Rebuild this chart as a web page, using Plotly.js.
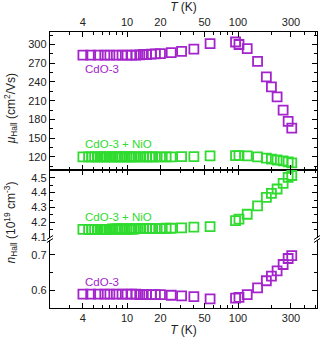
<!DOCTYPE html>
<html><head><meta charset="utf-8">
<script src="https://cdn.plot.ly/plotly-3.0.1.min.js"></script>
<style>html,body{margin:0;padding:0;background:#fff}</style>
</head><body><div id="chart" style="width:326px;height:337px"></div>
<script>
// ---- data ----
const T_cdo = [4, 4.7, 5.5, 6.3, 7, 8, 9, 10, 11, 12, 13, 14, 15, 16.5, 18, 20, 25, 31, 40, 56, 95, 102, 121, 150, 180, 200, 225, 255, 283, 305];
const mu_cdo = [283, 283, 283, 283, 283, 283, 283, 283, 283, 283, 283.5, 284, 284, 284.5, 285, 285.5, 287, 289, 292.5, 301.5, 304, 300, 293.5, 273, 248, 232, 216, 195, 177, 166];
const n_cdo = [0.589, 0.589, 0.589, 0.589, 0.589, 0.589, 0.589, 0.589, 0.589, 0.589, 0.588, 0.588, 0.588, 0.588, 0.588, 0.588, 0.586, 0.584, 0.582, 0.576, 0.578, 0.580, 0.588, 0.607, 0.627, 0.640, 0.655, 0.673, 0.690, 0.698];

const T_nio = [4, 4.5, 4.8, 5.1, 5.4, 5.7, 6, 6.3, 6.6, 7, 7.4, 7.8, 8.2, 8.6, 9, 9.5, 10, 10.5, 11, 11.5, 12, 13, 14, 15, 16, 17, 18, 20, 22.5, 25, 31, 40, 56, 95, 102, 121, 150, 180, 200, 225, 255, 283, 305];
const mu_nio = [120, 120, 120, 120, 120, 120, 120, 120, 120, 120, 120, 120, 120, 120, 120, 120, 120, 120, 120, 120, 120, 120, 120, 120, 120, 120, 120, 120, 120, 120, 120.5, 120.5, 121.5, 122, 122, 121.5, 120, 118, 116.5, 115, 113.5, 112, 110.5];
const n_nio = [4.153, 4.153, 4.153, 4.153, 4.153, 4.153, 4.153, 4.153, 4.153, 4.153, 4.155, 4.155, 4.155, 4.155, 4.155, 4.155, 4.155, 4.155, 4.155, 4.155, 4.157, 4.157, 4.157, 4.157, 4.157, 4.157, 4.157, 4.158, 4.160, 4.160, 4.162, 4.167, 4.171, 4.211, 4.221, 4.254, 4.310, 4.368, 4.395, 4.424, 4.462, 4.502, 4.515];

const xTicks = [4, 10, 20, 50, 100, 300];
const xMinor = [2, 3, 5, 6, 7, 8, 9, 30, 40, 60, 70, 80, 90, 200, 400, 500];
const muTicks = [120, 150, 180, 210, 240, 270, 300];
const nHiTicks = [4.1, 4.2, 4.3, 4.4, 4.5];
const nLoTicks = [0.6, 0.7];

const PURPLE = '#A424CC';
const GREEN = '#2EDB2E';
const FONT = '"Liberation Sans", Arial, sans-serif';

function mk(color){ return {symbol:'square-open', size:9, color:color, line:{width:1.8, color:color}}; }

const traces = [
  {x:T_cdo, y:mu_cdo, xaxis:'x', yaxis:'y', mode:'markers', marker:mk(PURPLE), hoverinfo:'skip'},
  {x:T_nio, y:mu_nio, xaxis:'x', yaxis:'y', mode:'markers', marker:mk(GREEN), hoverinfo:'skip'},
  {x:T_nio, y:n_nio, xaxis:'x2', yaxis:'y2', mode:'markers', marker:mk(GREEN), hoverinfo:'skip'},
  {x:T_cdo, y:n_cdo, xaxis:'x3', yaxis:'y3', mode:'markers', marker:mk(PURPLE), hoverinfo:'skip'}
];

const xr = [Math.log10(2.02), Math.log10(515)];
function xax(extra){
  return Object.assign({type:'log', range:xr, tickvals:xTicks, ticktext:xTicks.map(String),
    ticks:'inside', ticklen:5, tickwidth:1, tickcolor:'#000',
    minor:{ticks:'inside', ticklen:3, tickvals:xMinor, tickcolor:'#000'},
    showline:true, linecolor:'#000', linewidth:1.2, showgrid:false, zeroline:false,
    tickfont:{size:11, color:'#222'}}, extra);
}
function yax(extra){
  return Object.assign({ticks:'inside', ticklen:5, tickwidth:1, tickcolor:'#000',
    showline:true, linecolor:'#000', linewidth:1.2, mirror:'ticks', showgrid:false, zeroline:false,
    tickfont:{size:11, color:'#222'}}, extra);
}

const layout = {
  width:326, height:337, margin:{l:50, r:9, t:32, b:29},
  paper_bgcolor:'#fff', plot_bgcolor:'#fff', showlegend:false,
  font:{family:FONT, size:11, color:'#222'},
  xaxis: xax({anchor:'y', side:'top', mirror:'ticks', title:{text:'<i>T</i> (K)', font:{size:12}, standoff:2}}),
  xaxis2: xax({anchor:'y2', side:'top', showticklabels:false}),
  xaxis3: xax({anchor:'y3', side:'bottom', title:{text:'<i>T</i> (K)', font:{size:12}, standoff:2}}),
  yaxis: yax({anchor:'x', domain:[0.5, 1], range:[99, 320], tickvals:muTicks, minor:{ticks:'inside', ticklen:3, dtick:15, tick0:0, tickcolor:'#000'}}),
  yaxis2: yax({anchor:'x2', domain:[0.254, 0.5], range:[4.095, 4.552], tickvals:nHiTicks, ticktext:nHiTicks.map(v=>v.toFixed(1)), minor:{ticks:'inside', ticklen:3, dtick:0.05, tick0:0, tickcolor:'#000'}}),
  yaxis3: yax({anchor:'x3', domain:[0, 0.246], range:[0.55, 0.742], tickvals:nLoTicks, ticktext:nLoTicks.map(v=>v.toFixed(1)), minor:{ticks:'inside', ticklen:3, dtick:0.05, tick0:0, tickcolor:'#000'}}),
  annotations:[
    {text:'CdO-3', xref:'paper', yref:'paper', x:0.124, y:0.866, xanchor:'left', yanchor:'middle', showarrow:false, font:{size:11.5, color:PURPLE}},
    {text:'CdO-3 + NiO', xref:'paper', yref:'paper', x:0.124, y:0.594, xanchor:'left', yanchor:'middle', showarrow:false, font:{size:11.5, color:GREEN}},
    {text:'CdO-3 + NiO', xref:'paper', yref:'paper', x:0.124, y:0.330, xanchor:'left', yanchor:'middle', showarrow:false, font:{size:11.5, color:GREEN}},
    {text:'CdO-3', xref:'paper', yref:'paper', x:0.124, y:0.095, xanchor:'left', yanchor:'middle', showarrow:false, font:{size:11.5, color:PURPLE}},
    {text:'<i>μ</i><sub>Hall</sub> (cm<sup>2</sup>/Vs)', xref:'paper', yref:'paper', x:0, xshift:-39, y:0.72, textangle:-90, xanchor:'center', yanchor:'middle', showarrow:false, font:{size:12, color:'#222'}},
    {text:'<i>n</i><sub>Hall</sub> (10<sup>19</sup> cm<sup>-3</sup>)', xref:'paper', yref:'paper', x:0, xshift:-39, y:0.31, textangle:-90, xanchor:'center', yanchor:'middle', showarrow:false, font:{size:12, color:'#222'}}
  ],
  shapes:[0, 1].flatMap(side => [-1.5, 1.5].map(off => ({
    type:'line', xref:'paper', yref:'paper', xsizemode:'pixel', ysizemode:'pixel',
    xanchor:side, yanchor:0.25, x0:-3, x1:3, y0:off-2, y1:off+2,
    line:{color:'#000', width:1}
  })))
};

Plotly.newPlot('chart', traces, layout, {displayModeBar:false, staticPlot:true});
</script></body></html>
